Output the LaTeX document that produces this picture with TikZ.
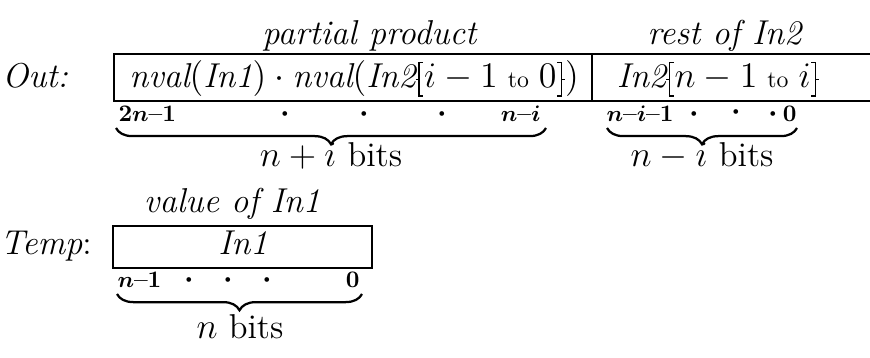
\documentclass[tikz,border=0pt]{standalone}
\usetikzlibrary{decorations.pathreplacing}
\newcommand{\qbl}{\mathopen{\hbox{\vrule height 0.27em depth -0.23em width 1.1pt\vrule height 0.75em depth 0.25em width 0.45pt\kern-0.45pt\rlap{\vrule height 0.75em depth -0.71em width 2pt}\vrule height -0.21em depth 0.25em width 2pt\kern0.3pt}}}
\newcommand{\qbr}{\mathclose{\hbox{\kern0.3pt\rlap{\vrule height 0.75em depth -0.71em width 2pt}\rlap{\vrule height -0.21em depth 0.25em width 2pt}\kern1.55pt\vrule height 0.75em depth 0.25em width 0.45pt\vrule height 0.27em depth -0.23em width 1.1pt}}}
\newcommand{\tto}{\mathrel{\hbox{\fontsize{9.5}{11}\selectfont to}}}
\newcommand{\bmi}[1]{{\boldmath$#1$}}
\newcommand{\dd}{\textbf{--}}
\begin{document}
\begin{tikzpicture}[x=0.4pt,y=-0.4pt,
  every node/.style={inner sep=0pt, font=\fontsize{13.8}{16}\selectfont},
  lbl/.style={font=\fontsize{9.5}{11}\selectfont\bfseries},
  bdot/.style={font=\fontsize{13}{14}\selectfont\boldmath},
  boxline/.style={line width=0.75pt},
  bitbrace/.style={decorate, decoration={brace, mirror, amplitude=6.5pt}, line width=0.9pt}]
\useasboundingbox (0,0) rectangle (870,358);
% titles
\node[anchor=base] (pp) at (370,45) {\textit{partial product}};
\node[anchor=base] (ri) at (725,45) {\textit{rest of In2}};
% Out row
\node[anchor=base west] (out) at (2,88) {\textit{Out:}};
\coordinate (o1) at (114,54);
\coordinate (o2) at (592,54);
\coordinate (o3) at (880,54);
\coordinate (o4) at (114,101);
\coordinate (o5) at (592,101);
\coordinate (o6) at (880,101);
\draw[boxline] (o3) -- (o1) -- (o4) -- (o6);
\draw[boxline] (o2) -- (o5);
\node[anchor=base] (pv) at (354,88) {$\textit{nval}(\textit{In1})\cdot\textit{nval}(\textit{In2}\qbl i-1\tto 0\qbr)$};
\node[anchor=base] (rv) at (718,88) {$\textit{In2}\qbl n-1\tto i\qbr$};
% bit labels Out
\node[lbl, anchor=base west] (a1) at (118,122) {2\bmi{n}\dd1};
\node[bdot, anchor=base] (ad1) at (285,122) {$\cdot$};
\node[bdot, anchor=base] (ad2) at (364,122) {$\cdot$};
\node[bdot, anchor=base] (ad3) at (442,122) {$\cdot$};
\node[lbl, anchor=base east] (a2) at (541,122) {\bmi{n}\dd\bmi{i}};
\node[lbl, anchor=base west] (b1) at (606,122) {\bmi{n}\dd\bmi{i}\dd1};
\node[bdot, anchor=base] (bd1) at (694,122) {$\cdot$};
\node[bdot, anchor=base] (bd2) at (736,120) {$\cdot$};
\node[bdot, anchor=base] (bd3) at (773,122) {$\cdot$};
\node[lbl, anchor=base east] (b2) at (797,122) {0};
\coordinate (bl1) at (116,128);
\coordinate (bl2) at (546,128);
\coordinate (br1) at (607,128);
\coordinate (br2) at (797,128);
\draw[bitbrace] (bl1) -- (bl2);
\draw[bitbrace] (br1) -- (br2);
\node[anchor=base] (nib) at (331,167) {$n+i$ bits};
\node[anchor=base] (nmb) at (702,167) {$n-i$ bits};
% Temp row
\node[anchor=base] (vi) at (232,213) {\textit{value of In1}};
\node[anchor=base west] (tmp) at (0,255) {\textit{Temp}:};
\coordinate (t1) at (113,226);
\coordinate (t2) at (372,268);
\draw[boxline] (t1) rectangle (t2);
\node[anchor=base] (tv) at (243,255) {\textit{In1}};
\node[lbl, anchor=base west] (c1) at (117,288) {\bmi{n}\dd1};
\node[bdot, anchor=base] (cd1) at (189,288) {$\cdot$};
\node[bdot, anchor=base] (cd2) at (228,288) {$\cdot$};
\node[bdot, anchor=base] (cd3) at (267,288) {$\cdot$};
\node[lbl, anchor=base east] (c2) at (360,288) {0};
\coordinate (cl1) at (117,294);
\coordinate (cl2) at (362,294);
\draw[bitbrace] (cl1) -- (cl2);
\node[anchor=base] (nb) at (240,338) {$n$ bits};
\end{tikzpicture}
\end{document}
